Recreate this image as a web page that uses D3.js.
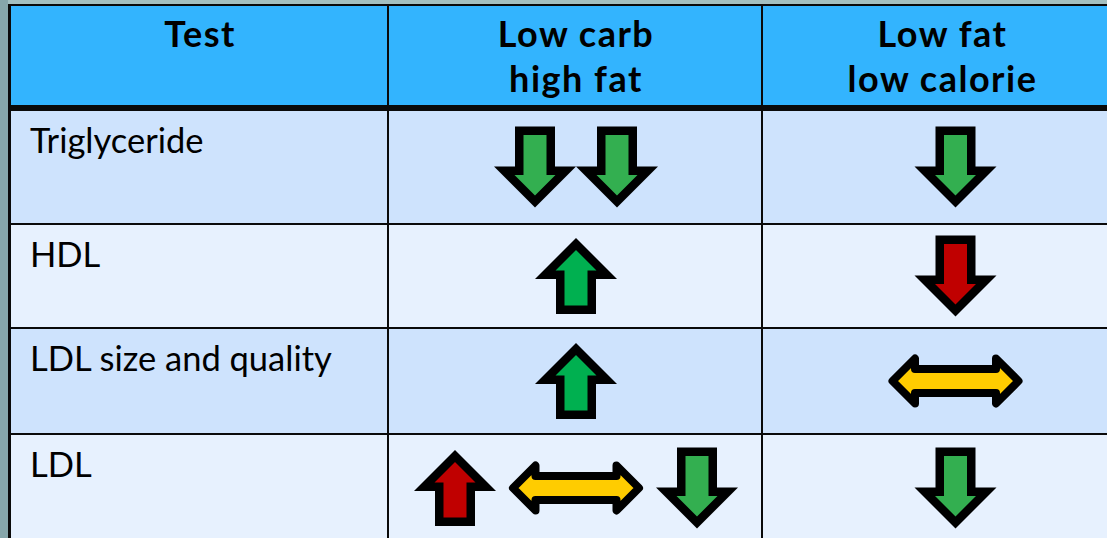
<!DOCTYPE html>
<html>
<head>
<meta charset="utf-8">
<script src="https://cdn.jsdelivr.net/npm/d3@7"></script>
<style>
  html, body { margin: 0; padding: 0; background: #A3BFC0; }
  svg { display: block; }
</style>
</head>
<body>
<div id="chart"></div>
<script>
// ---- data ----
const headers = [["Test"], ["Low carb", "high fat"], ["Low fat", "low calorie"]];
const tests = ["Triglyceride", "HDL", "LDL size and quality", "LDL"];
// effect codes: down = decrease (good, green), up = increase (good, green),
// upBad = increase (bad, red), downBad = decrease (bad, red), same = unclear/no change (yellow)
const lowCarbHighFat = [["down", "down"], ["up"], ["up"], ["upBad", "same", "down"]];
const lowFatLowCalorie = [["down"], ["downBad"], ["same"], ["down"]];

// ---- layout ----
const W = 1107, H = 538;
const colEdges = [11, 389, 763, 1122];     // left edges of columns, last = right edge
const headerTop = 6, headerBottom = 105, headerRule = 6;
const rowHeights = [112, 102, 104, 106];
const rowGap = 2;

const arrowStyle = {
  down:    { dir: "down", fill: "#33AF50", h: 81 },
  up:      { dir: "up",   fill: "#00B050", h: 76 },
  upBad:   { dir: "up",   fill: "#C00000", h: 76 },
  downBad: { dir: "down", fill: "#C00000", h: 81 },
  same:    { dir: "both", fill: "#FFCC00", h: 53 }
};
const widthOf = k => k === "same" ? 134 : 82;

const svg = d3.select("#chart").append("svg").attr("width", W).attr("height", H);

// backgrounds
svg.append("rect").attr("width", W).attr("height", H).attr("fill", "#A3BFC0");
svg.append("rect").attr("x", 0).attr("y", 0).attr("width", 8).attr("height", H).attr("fill", "#86A6AA");
svg.append("rect").attr("x", 8).attr("y", 4).attr("width", W).attr("height", H).attr("fill", "#0a0a0a");

// row geometry
const rowTops = [];
let yy = headerBottom + headerRule;
rowHeights.forEach((h, i) => { rowTops.push(yy); yy += h + rowGap; });
const rowY = d3.scaleOrdinal().domain(tests).range(rowTops);
const rowH = d3.scaleOrdinal().domain(tests).range(rowHeights);

const colX = i => colEdges[i];
const colW = i => colEdges[i + 1] - colEdges[i] - (i < 2 ? 2 : 0);

// header cells
headers.forEach((lines, i) => {
  svg.append("rect").attr("x", colX(i)).attr("y", headerTop)
    .attr("width", colW(i)).attr("height", headerBottom - headerTop).attr("fill", "#33B4FE");
  const cx = colX(i) + (colEdges[i + 1] - colEdges[i]) / 2;
  const t = svg.append("text")
    .attr("x", cx)
    .attr("y", 47)
    .attr("text-anchor", "middle")
    .attr("font-family", "Lato, 'Open Sans', sans-serif")
    .attr("font-weight", "bold")
    .attr("font-size", 36)
    .attr("letter-spacing", 1.5)
    .attr("fill", "#000");
  lines.forEach((l, j) => t.append("tspan").attr("x", cx)
    .attr("dy", j === 0 ? 0 : 45).text(l));
});

// body cells
const rowFill = ["#CEE3FD", "#E7F1FE", "#CEE3FD", "#E7F1FE"];
tests.forEach((t, r) => {
  for (let i = 0; i < 3; i++) {
    svg.append("rect").attr("x", colX(i)).attr("y", rowY(t))
      .attr("width", colW(i)).attr("height", rowH(t)).attr("fill", rowFill[r]);
  }
  svg.append("text").attr("x", 30).attr("y", rowY(t) + 42)
    .attr("font-family", "Lato, 'Open Sans', sans-serif")
    .attr("font-size", 34.5).attr("fill", "#000").text(t);
});

// arrow path builders (center geometry, stroked)
function vArrowPath(h, dir, stroke) {
  const sw = 20, hl = 41, c = stroke / 2;
  const top = -h / 2 + c;
  const baseY = h / 2 - hl + c;
  const tipY = h / 2 - c * Math.SQRT2;
  const hw = tipY - baseY;
  const s = sw - c;
  let pts = [[-s, top], [s, top], [s, baseY], [hw, baseY], [0, tipY], [-hw, baseY], [-s, baseY]];
  if (dir === "up") pts = pts.map(([x, y]) => [x, -y]);
  return "M" + pts.map(p => p.join(",")).join("L") + "Z";
}
function hArrowPath(w, h, stroke) {
  const c = stroke / 2;
  const L = w / 2 - c, hh = h / 2 - c, sh = 12, hb = L - hh;
  const pts = [[-L, 0], [-hb, -hh], [-hb, -sh], [hb, -sh], [hb, -hh], [L, 0], [hb, hh], [hb, sh], [-hb, sh], [-hb, hh]];
  return "M" + pts.map(p => p.join(",")).join("L") + "Z";
}

function drawArrows(effects, col, xOffset) {
  const cx = colX(col) + (colEdges[col + 1] - colEdges[col]) / 2 + xOffset;
  tests.forEach((t, r) => {
    const items = effects[r];
    const gap = items.length > 2 ? 13 : 0;
    const total = d3.sum(items, widthOf) + gap * (items.length - 1);
    let x = cx - total / 2;
    const cy = rowY(t) + rowH(t) / 2;
    items.forEach(k => {
      const st = arrowStyle[k];
      const w = widthOf(k);
      const g = svg.append("g").attr("transform", `translate(${x + w / 2},${cy})`);
      if (st.dir === "both") {
        g.append("path").attr("d", hArrowPath(w, st.h, 8))
          .attr("fill", st.fill).attr("stroke", "#000").attr("stroke-width", 8)
          .attr("stroke-linejoin", "round");
      } else {
        g.append("path").attr("d", vArrowPath(st.h, st.dir, 8.5))
          .attr("fill", st.fill).attr("stroke", "#000").attr("stroke-width", 8.5)
          .attr("stroke-linejoin", "miter").attr("stroke-miterlimit", 10);
      }
      x += w + gap;
    });
  });
}
drawArrows(lowCarbHighFat, 1, 0);
drawArrows(lowFatLowCalorie, 2, 13);
</script>
</body>
</html>
